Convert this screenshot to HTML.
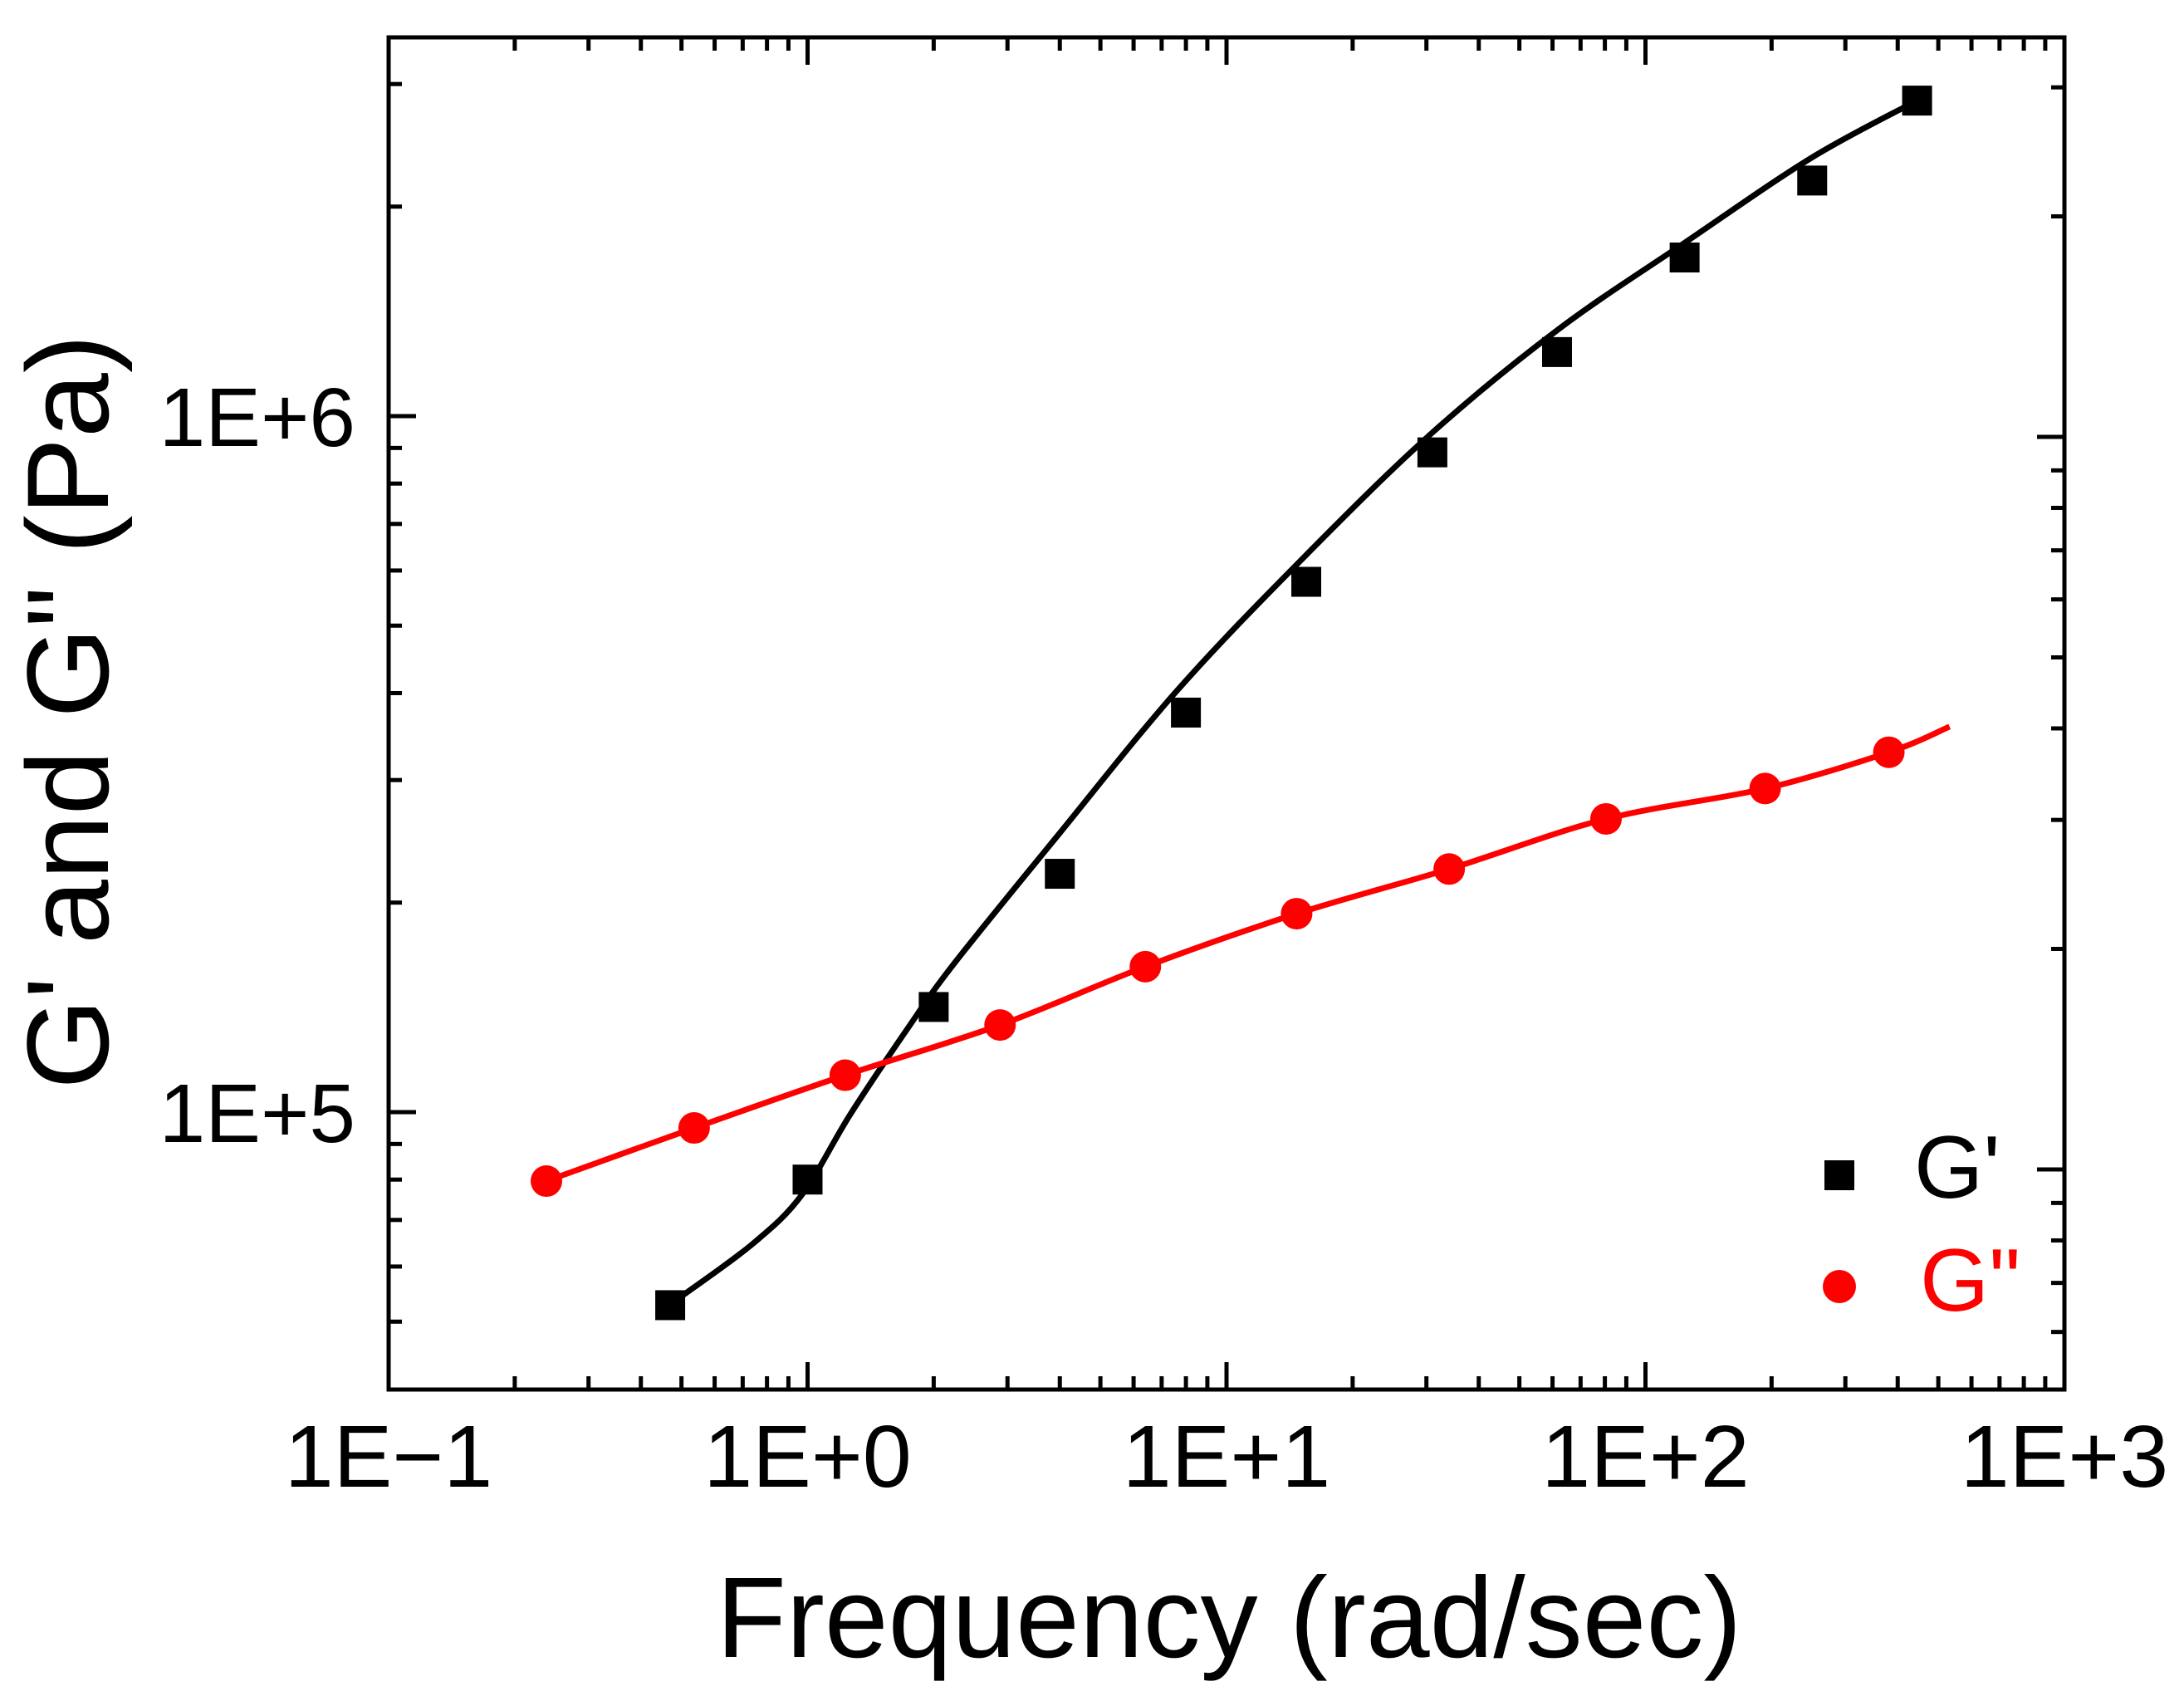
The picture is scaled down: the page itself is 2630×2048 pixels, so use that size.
<!DOCTYPE html>
<html><head><meta charset="utf-8"><style>
html,body{margin:0;padding:0;background:#fff;}
svg{display:block;}
text{font-family:"Liberation Sans",Arial,sans-serif;}
</style></head>
<body>
<svg id="chart" width="2630" height="2048" viewBox="0 0 2630 2048" xmlns="http://www.w3.org/2000/svg">
<rect x="0" y="0" width="2630" height="2048" fill="#fff"/>
<g id="ticks"></g>
<g id="series"></g>
<rect x="468" y="45" width="2018" height="1628" fill="none" stroke="#000" stroke-width="5"/>
<g id="labels"></g>
<text transform="translate(130,857) rotate(-90)" text-anchor="middle" font-size="140" fill="#000">G' and G" (Pa)</text>
<text x="1480" y="1995" text-anchor="middle" font-size="138" fill="#000">Frequency (rad/sec)</text>
<rect x="2197" y="1397" width="36" height="36" fill="#000"/>
<text x="2305" y="1442" font-size="107" fill="#000">G'</text>
<circle cx="2215" cy="1549" r="20" fill="#f00"/>
<text x="2312" y="1578" font-size="107" fill="#f00">G"</text>
</svg>
<script>
const gpFreq = [0.47, 1.0, 2.0, 4.0, 8.0, 15.5, 31, 61.5, 124, 250, 445];
const gpVal = [52800, 80000, 141600, 220000, 375000, 578000, 887000, 1236000, 1690000, 2180000, 2840000];
const gppFreq = [0.238, 0.536, 1.23, 2.88, 6.4, 14.7, 34, 80.5, 193, 381];
const gppVal = [79600, 94900, 113000, 133400, 161800, 192800, 223500, 263800, 291700, 328900];
const gpFitFreq = [0.505, 0.74, 0.968, 1.265, 1.72, 2.24, 3.94, 7.6, 15.3, 30.7, 61.8, 124, 249, 445];
const gpFitVal = [54600, 64700, 76000, 99300, 131000, 163600, 249000, 402600, 627000, 942000, 1331000, 1774000, 2350000, 2840000];
const gppFitFreq = [0.238, 0.536, 1.23, 2.88, 6.4, 14.7, 34, 80.5, 193, 381, 532];
const gppFitVal = [79600, 94900, 113000, 133400, 161800, 192800, 223500, 263800, 291700, 328900, 358000];
const xTickLabels = ["1E\u22121", "1E+0", "1E+1", "1E+2", "1E+3"];
const xTickValues = [0.1, 1, 10, 100, 1000];
const yTickLabels = ["1E+6", "1E+5"];
const yTickValues = [1e6, 1e5];

const NS = "http://www.w3.org/2000/svg";
const X0 = 468, XD = 504.5;
function xs(v){ return X0 + (Math.log10(v) + 1) * XD; }
function ys(v){ return 501 + (6 - Math.log10(v)) * 838; }
function ysR(v){ return 526 + (6 - Math.log10(v)) * 882; }
function mk(tag, attrs, parent){ const e = document.createElementNS(NS, tag); for (const k in attrs) e.setAttribute(k, attrs[k]); parent.appendChild(e); return e; }

const ticks = document.getElementById('ticks');
const labels = document.getElementById('labels');
const series = document.getElementById('series');
for (let d = -1; d < 3; d++) {
  for (let m = 1; m <= 9; m++) {
    const v = m * Math.pow(10, d);
    const x = xs(v);
    if (x <= X0 + 2) continue;
    const len = m === 1 ? 33 : 16;
    const t1 = mk('line', {x1:x, y1:1673, x2:x, y2:1673-len, stroke:'#000', 'stroke-width':5}, ticks);
    
    
    const t2 = mk('line', {x1:x, y1:45, x2:x, y2:45+len, stroke:'#000', 'stroke-width':5}, ticks);
    
    
  }
}
for (let d = 4; d <= 6; d++) {
  for (let m = 1; m <= 9; m++) {
    const v = m * Math.pow(10, d);
    const len = m === 1 ? 33 : 16;
    const yl = ys(v);
    if (yl > 48 && yl < 1670) {
      const t = mk('line', {x1:468, y1:yl, x2:468+len, y2:yl, stroke:'#000', 'stroke-width':5}, ticks);
      
      
    }
    const yr = ysR(v);
    if (yr > 48 && yr < 1670) {
      const t = mk('line', {x1:2486, y1:yr, x2:2486-len, y2:yr, stroke:'#000', 'stroke-width':5}, ticks);
      
      
    }
  }
}
xTickLabels.forEach((s, i) => {
  const t = mk('text', {x:xs(xTickValues[i]), y:1790, 'text-anchor':'middle', 'font-size':106, fill:'#000'}, labels);
  
  
  t.textContent = s;
});
yTickLabels.forEach((s, i) => {
  const t = mk('text', {x:428, y:ys(yTickValues[i]) + 36, 'text-anchor':'end', 'font-size':100, fill:'#000'}, labels);
  
  
  t.textContent = s;
});
function pathFrom(fx, fy){
  const p = fx.map((f, i) => [xs(f), ys(fy[i])]);
  let d = 'M' + p[0][0].toFixed(1) + ',' + p[0][1].toFixed(1);
  for (let i = 0; i < p.length - 1; i++) {
    const p0 = p[i-1] || p[i], p1 = p[i], p2 = p[i+1], p3 = p[i+2] || p2;
    const c1x = p1[0] + (p2[0]-p0[0])/6, c1y = p1[1] + (p2[1]-p0[1])/6;
    const c2x = p2[0] - (p3[0]-p1[0])/6, c2y = p2[1] - (p3[1]-p1[1])/6;
    d += ' C' + c1x.toFixed(1) + ',' + c1y.toFixed(1) + ' ' + c2x.toFixed(1) + ',' + c2y.toFixed(1) + ' ' + p2[0].toFixed(1) + ',' + p2[1].toFixed(1);
  }
  return d;
}
const l1 = mk('path', {d:pathFrom(gpFitFreq, gpFitVal), fill:'none', stroke:'#000', 'stroke-width':7, 'stroke-linejoin':'round'}, series);


const l2 = mk('path', {d:pathFrom(gppFitFreq, gppFitVal), fill:'none', stroke:'#f00', 'stroke-width':7, 'stroke-linejoin':'round'}, series);


gpFreq.forEach((f, i) => {
  const r = mk('rect', {x:xs(f)-18, y:ys(gpVal[i])-18, width:36, height:36, fill:'#000'}, series);
  
  
});
gppFreq.forEach((f, i) => {
  const c = mk('circle', {cx:xs(f), cy:ys(gppVal[i]), r:19, fill:'#f00'}, series);
  
  
});
</script>
</body></html>
